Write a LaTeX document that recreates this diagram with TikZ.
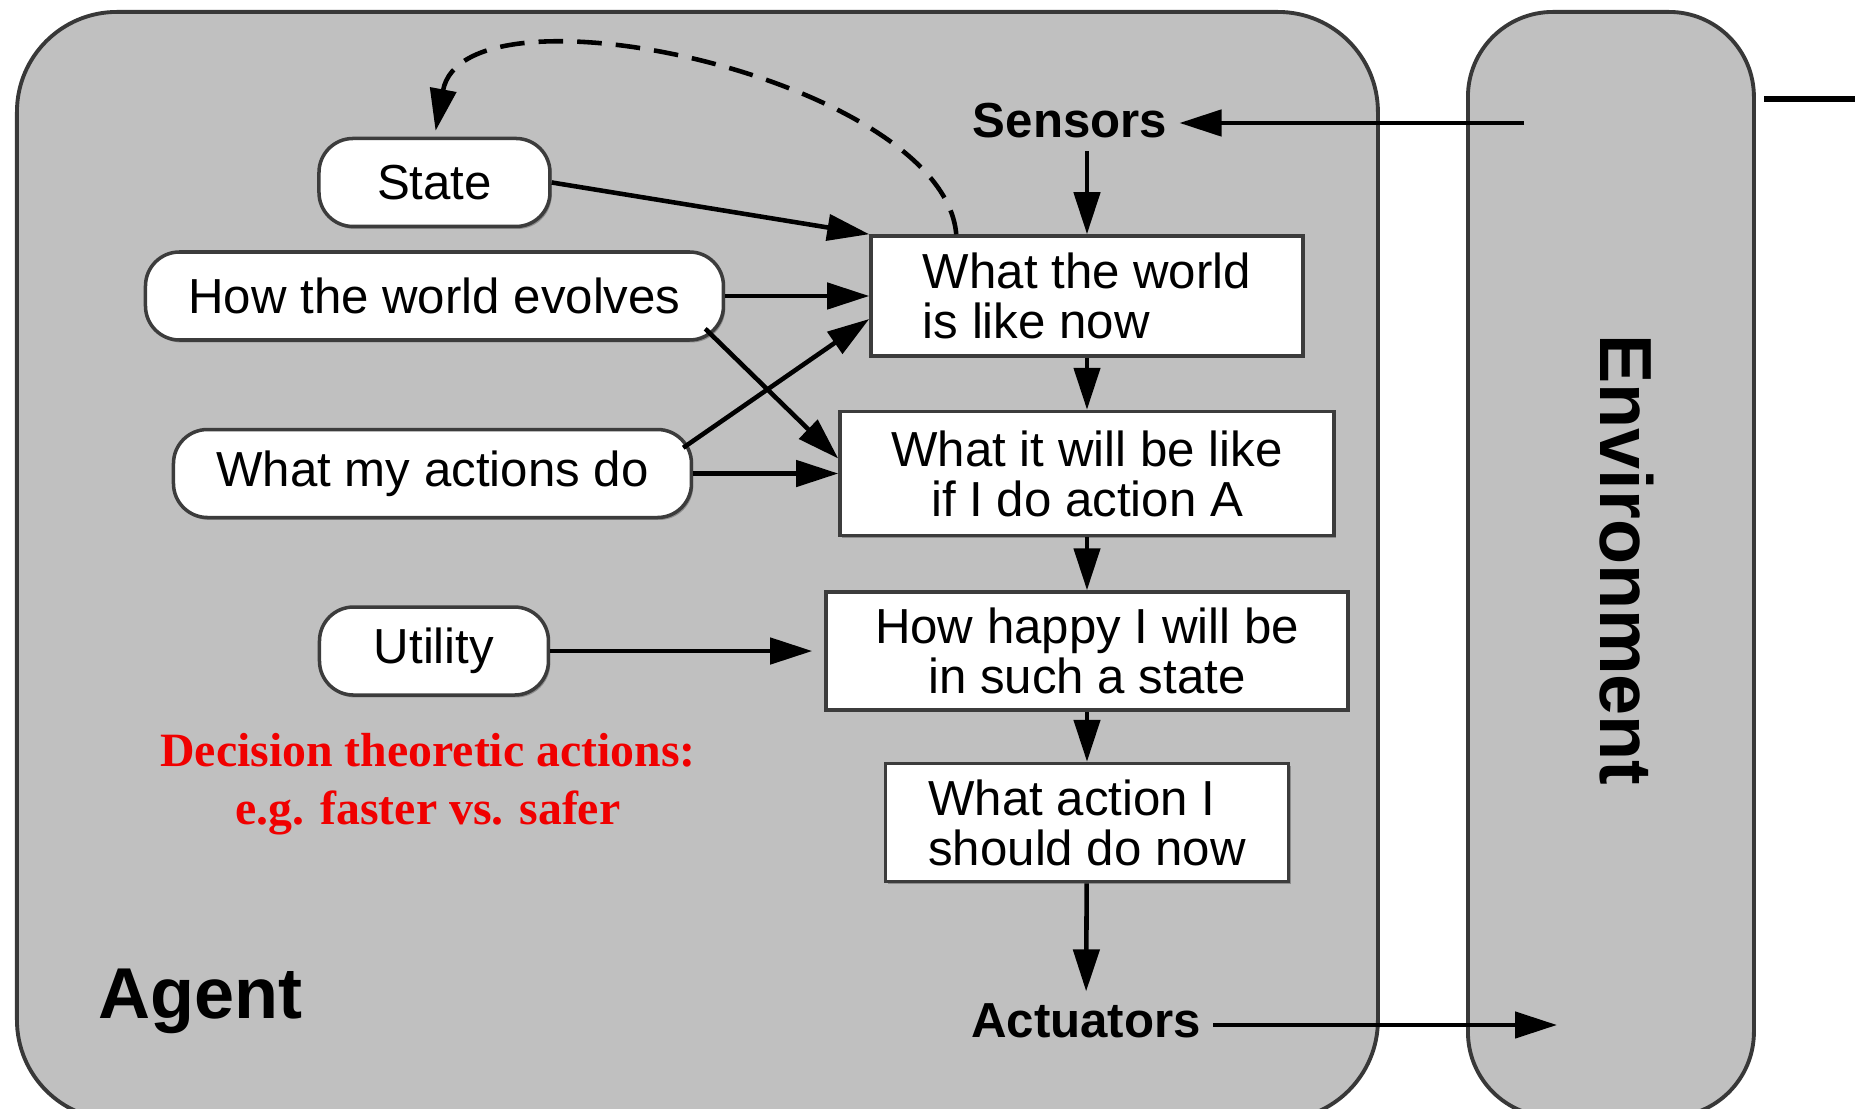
\documentclass[tikz,border=0pt]{standalone}
\usepackage{fontspec}
\setmainfont{Liberation Sans}
\newfontfamily\serifbf{Liberation Serif}
\usetikzlibrary{arrows.meta,positioning,shadows}
\definecolor{agentFill}{HTML}{C0C0C0}
\definecolor{agentLine}{HTML}{383838}
\definecolor{boxLine}{HTML}{3C3C3C}
\definecolor{noteRed}{HTML}{F00000}
\newcommand{\fs}[2]{\fontsize{#1}{#2}\selectfont}

\begin{document}
\begin{tikzpicture}[node distance=0.52cm and 1.45cm]
\tikzset{
  frame/.style={rectangle, rounded corners=1.0cm, draw=agentLine, fill=agentFill,
                line width=1.1pt, anchor=north west, inner sep=0pt},
  bx/.style={rectangle, draw=boxLine, fill=white, line width=1pt, minimum height=1.2cm,
             inner sep=4pt, font=\fs{14}{14.2},
             drop shadow={shadow xshift=0.7pt, shadow yshift=-0.7pt, fill=black!45, opacity=1}},
  mdl/.style={rectangle, rounded corners=0.34cm, draw=boxLine, fill=white, line width=1pt,
              minimum height=0.88cm, inner sep=3pt, font=\fs{14}{14.2},
              drop shadow={shadow xshift=0.5pt, shadow yshift=-0.7pt, fill=black!45, opacity=1}},
  io/.style={font=\fs{14}{16}\bfseries},
  ar/.style={-{Triangle[length=4.2mm,width=2.6mm]}, line width=1.3pt},
  ard/.style={ar, dash pattern=on 7pt off 4pt}
}
\useasboundingbox (0,0) rectangle (18.55,-11.09);

% Agent and environment
\node[frame, minimum width=13.61cm, minimum height=11.08cm] (agent) at (0.15,-0.10) {};
\node[frame, rounded corners=0.85cm, minimum width=2.86cm, minimum height=11.05cm] (env) at (14.66,-0.10) {};
\node[font=\fs{20.5}{24}\bfseries, anchor=base west] (agentlbl) at (0.86,-10.19) {Agent};
\node[font=\fs{21}{24}\bfseries, rotate=-90] (envlbl) at (16.27,-5.60) {Environment};

% Main column
\node[bx, align=left, minimum width=4.32cm] (box1) at (10.87,-2.96) {What the world\\is like now};
\node[bx, align=center, minimum width=4.94cm, minimum height=1.24cm, below=0.52cm of box1] (box2)
 {What it will be like\\if I do action A};
\node[bx, align=center, minimum width=5.22cm, minimum height=1.18cm, below=0.53cm of box2] (box3)
 {How happy I will be\\in such a state};
\node[bx, align=left, minimum width=4.03cm, minimum height=1.18cm, below=0.50cm of box3] (box4)
 {What action I\\should do now};

\node[io] (sensors) at (10.70,-1.21) {Sensors};
\node[io] (actuators) at (10.86,-10.21) {Actuators};

% Knowledge (left)
\node[mdl, minimum width=5.78cm, left=1.44cm of box1] (evolves) {How the world evolves};
\node[mdl, minimum width=2.31cm, above=0.22cm of evolves] (state) {State};
\node[mdl, minimum width=5.18cm, left=1.45cm of box2] (actions) {What my actions do};
\node[mdl, minimum width=2.29cm, left=2.74cm of box3] (utility) {Utility};

\node[font=\serifbf\fs{13.6}{16.5}\bfseries, text=noteRed, align=center] (note) at (4.28,-7.84)
 {Decision theoretic actions:\\e.g. faster vs. safer};

\coordinate (envin) at (15.24,-1.23);
\coordinate (envout) at (15.57,-10.25);
\coordinate (edgeA) at (17.64,-0.99);
\coordinate (edgeB) at (18.55,-0.99);

% Percept to action
\draw[ar] (envin) -- (envin -| sensors.east);
\draw[ar] (sensors.south -| box1.north) -- (box1.north);
\draw[ar] (box1) -- (box2);
\draw[ar] (box2) -- (box3);
\draw[ar] (box3) -- (box4);
\draw[ar] (box4) -- (actuators);
\draw[ar] (actuators.east |- envout) -- (envout);

% Inputs from the left
\draw[ar] (state.east) -- (box1.north west);
\draw[ar] (evolves) -- (box1);
\draw[ar] ([xshift=-0.2cm,yshift=0.13cm]evolves.south east) -- ([yshift=0.15cm]box2.west);
\draw[ar] ([xshift=-0.1cm,yshift=-0.2cm]actions.north east) -- ([yshift=-0.23cm]box1.west);
\draw[ar] (actions) -- (box2);
\draw[ar, shorten >=0.12cm] (utility) -- (box3);

% State update
\draw[ard, shorten >=0.6mm] ([xshift=0.87cm]box1.north west) .. controls +(-0.13,1.55) and +(0.30,1.62) .. (state.north);

\draw[line width=1.7pt] (edgeA) -- (edgeB);
\end{tikzpicture}
\end{document}
